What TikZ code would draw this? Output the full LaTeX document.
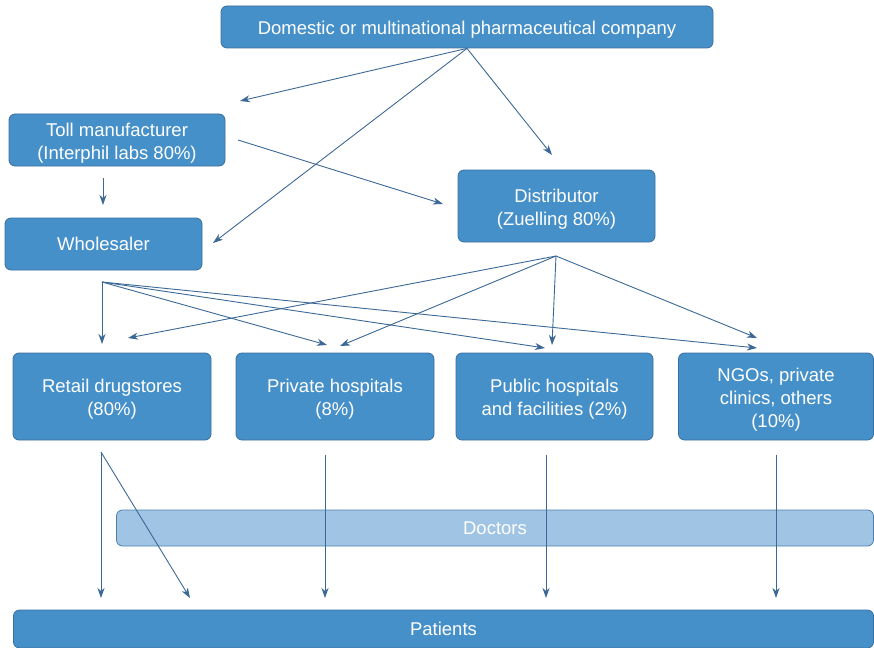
\documentclass[tikz,border=0pt]{standalone}
\usepackage{fontspec}
\setmainfont{Liberation Sans}
\usetikzlibrary{arrows.meta}
\definecolor{boxfill}{HTML}{4690C9}
\definecolor{boxline}{HTML}{3B6F9F}
\definecolor{docfill}{HTML}{9FC4E4}
\definecolor{docline}{HTML}{4F7FAE}
\definecolor{arrowc}{HTML}{3C6896}
\begin{document}
\begin{tikzpicture}[x=1pt,y=-1pt,
  boxfont/.style={text=white, align=center,
    font=\fontsize{18.5}{23}\selectfont},
  box/.style={draw=boxline, fill=boxfill, rounded corners=6pt, boxfont,
    inner sep=0pt, line width=0.8pt},
  % a taller first line sets the text a little below the box centre
  lowtext/.style={box, execute at begin node={\rule{0pt}{19.5pt}}},
  % several lines of text, set slightly below the box centre
  tag/.style={label={[boxfont, inner sep=0pt, yshift=-3pt]center:#1}},
  softbox/.style={box, fill=docfill, draw=docline},
  flow/.style={draw=arrowc, line width=0.9pt,
    -{Stealth[length=10pt,width=7pt,inset=3pt]}}]
\useasboundingbox (0,0) rectangle (874,647);

% organisations
\node[lowtext, minimum width=492pt, minimum height=42pt] (top) at (467,27)
  {Domestic or multinational pharmaceutical company};
\node[box, minimum width=216pt, minimum height=52pt,
  tag={Toll manufacturer\\(Interphil labs 80\%)}] (toll) at (117,140) {};
\node[box, minimum width=197pt, minimum height=52pt] (whole) at (103.5,244)
  {Wholesaler};
\node[box, minimum width=197pt, minimum height=72pt,
  tag={Distributor\\(Zuelling 80\%)}] (dist) at (556.5,206) {};
\node[box, minimum width=198pt, minimum height=87pt,
  tag={Retail drugstores\\(80\%)}] (retail) at (112,396.5) {};
\node[box, minimum width=198pt, minimum height=87pt,
  tag={Private hospitals\\(8\%)}] (priv) at (335,396.5) {};
\node[box, minimum width=197pt, minimum height=87pt,
  tag={Public hospitals\\and facilities (2\%)}] (pub) at (554.5,396.5) {};
\node[box, minimum width=195pt, minimum height=87pt,
  tag={NGOs, private\\clinics, others\\(10\%)}] (ngo) at (776,396.5) {};
\node[softbox, minimum width=757pt, minimum height=36pt] (doc) at (495,528)
  {Doctors};
\node[box, minimum width=860pt, minimum height=38pt] (pat) at (443.5,629)
  {Patients};

% free ends of the connectors
\coordinate (tollIn) at (240,101);
\coordinate (wholeIn) at (213,243);
\coordinate (distIn) at (552,155);
\coordinate (tollOut) at (238,140);
\coordinate (distSide) at (443,204);
\coordinate (tollDown) at (103,178);
\coordinate (wholeTop) at (103,205);
\coordinate (wfan) at (102,282);
\coordinate (dfan) at (556,256);
\coordinate (retW) at (102,344);
\coordinate (retD) at (128,338);
\coordinate (privW) at (327,345);
\coordinate (privD) at (340,346);
\coordinate (pubW) at (545,348);
\coordinate (pubD) at (552,345);
\coordinate (ngoW) at (757,348);
\coordinate (ngoD) at (757,338);
\coordinate (retOut) at (101,452);
\coordinate (privOut) at (325,455);
\coordinate (pubOut) at (546,455);
\coordinate (ngoOut) at (776,455);
\coordinate (patA) at (101,598);
\coordinate (patB) at (190,598);
\coordinate (patC) at (325,598);
\coordinate (patD) at (546,598);
\coordinate (patE) at (776,598);

% company to first tier
\draw[flow] (top.south) -- (tollIn);
\draw[flow] (top.south) -- (wholeIn);
\draw[flow] (top.south) -- (distIn);
\draw[flow] (tollOut) -- (distSide);
\draw[flow] (tollDown) -- (wholeTop);

% wholesaler and distributor to outlets
\foreach \t in {retW,privW,pubW,ngoW} \draw[flow] (wfan) -- (\t);
\foreach \t in {retD,privD,pubD,ngoD} \draw[flow] (dfan) -- (\t);

% outlets to patients
\draw[flow] (retOut) -- (patA);
\draw[flow] (retOut) -- (patB);
\draw[flow] (privOut) -- (patC);
\draw[flow] (pubOut) -- (patD);
\draw[flow] (ngoOut) -- (patE);
\end{tikzpicture}
\end{document}
